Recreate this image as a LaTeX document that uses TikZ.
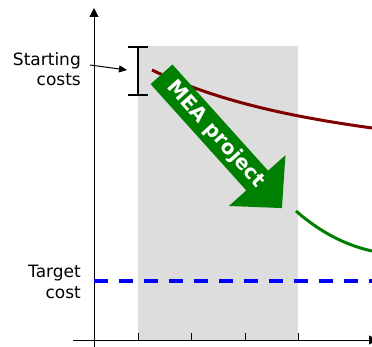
\documentclass[tikz,border=0pt]{standalone}
\usepackage{fontspec}
\setmainfont{DejaVu Sans}
\usetikzlibrary{arrows.meta}

\definecolor{costred}{HTML}{800000}
\definecolor{meagreen}{HTML}{008000}
\definecolor{phasegray}{HTML}{DDDDDD}

\begin{document}
\begin{tikzpicture}[x=1pt,y=-1pt,
  lbl/.style={font=\fontsize{17}{20.5}\selectfont, align=right, anchor=north east, inner sep=0pt},
  axis/.style={line width=1pt, -{Triangle[length=9pt,width=9pt]}},
  costcurve/.style={line width=3pt},
  mealabel/.style={font=\fontsize{20}{24}\selectfont\bfseries, text=white, rotate=-48, inner sep=0pt}]
\useasboundingbox (0,0) rectangle (372,347);
% project phase
\fill[phasegray] (138,46) rectangle (298,340);
% axes
\draw[axis] (94,347) -- (94,8);
\draw[axis] (73,340) -- (378,340);
\foreach \x in {138,191,245,298}
  \draw[line width=1pt] (\x,333) -- (\x,340);
% target cost
\draw[blue, line width=4pt, dash pattern=on 14pt off 11pt] (94,281) -- (372,281);
\node[lbl] (target) at (81,265) {Target\\cost};
% starting costs
\draw[line width=2.5pt] (128,47) -- (148,47) (138,47) -- (138,95) (128,95) -- (148,95);
\node[lbl] (start) at (81,52.3) {Starting\\costs};
\coordinate (from) at (90,65);
\coordinate (bar) at (127,70);
\draw[line width=1pt, -{Triangle[length=8pt,width=7pt]}] (from) -- (bar);
% cost curves
\draw[costcurve, costred] (152,70) .. controls (220,103) and (300,118) .. (372,128);
\draw[costcurve, meagreen] (296,211) .. controls (320,232) and (345,245) .. (372,251);
% MEA arrow
\begin{scope}[shift={(161.5,74.3)}, rotate=-48]
  \fill[meagreen] (0,-14.7) -- (143,-14.7) -- (143,-38) -- (180,0) -- (143,38) -- (143,14.7) -- (0,14.7) -- cycle;
  \node[mealabel] (mea) at (81,0) {MEA project};
\end{scope}
\end{tikzpicture}
\end{document}
